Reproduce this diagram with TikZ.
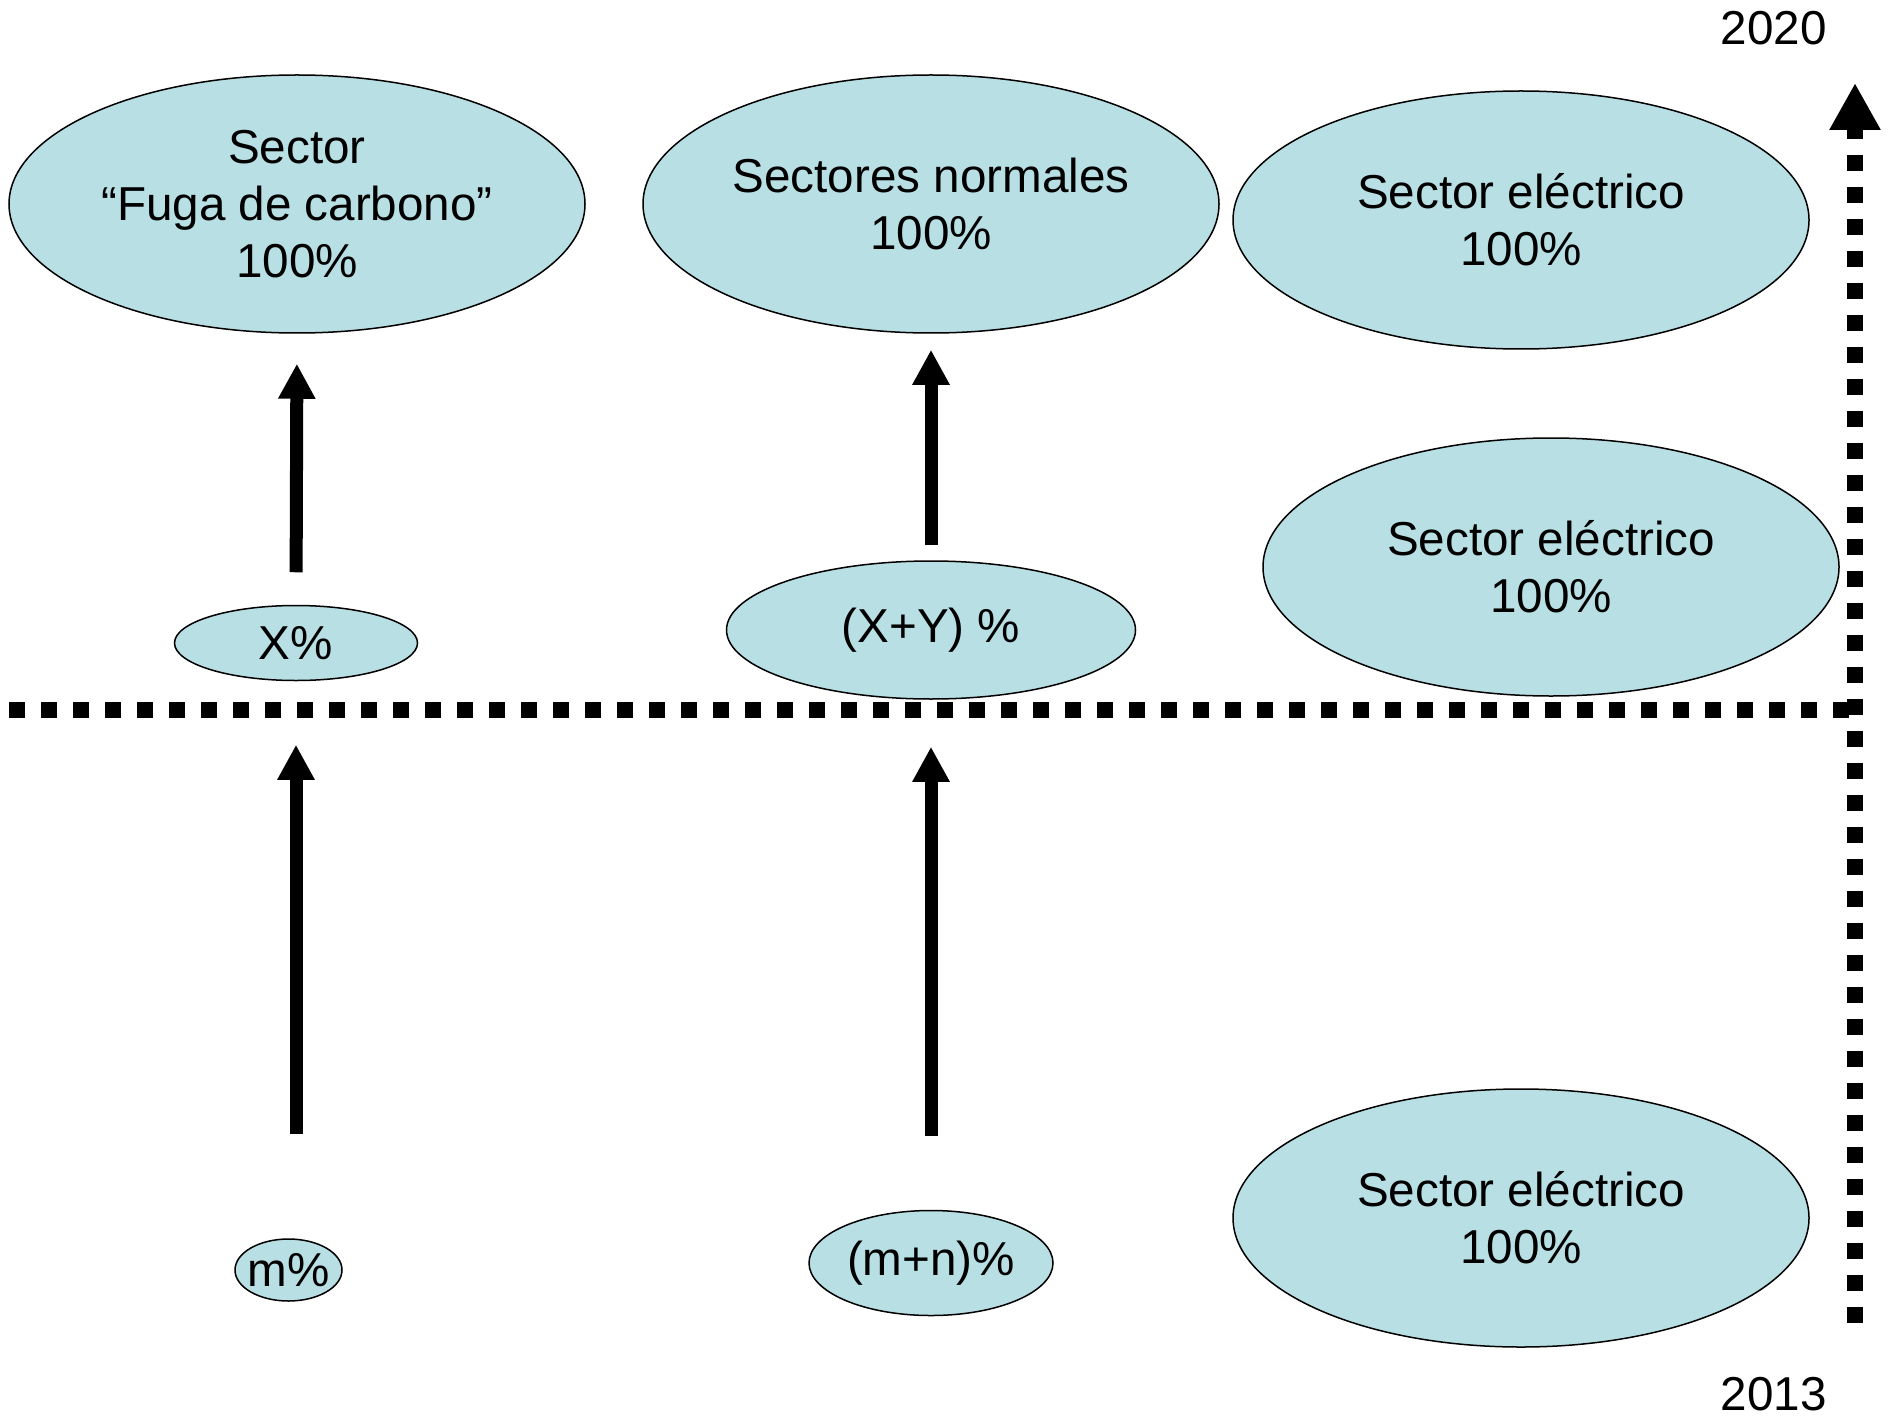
\documentclass[tikz,border=0pt]{standalone}
\usepackage{fontspec}
\setmainfont{Liberation Sans}
\usetikzlibrary{arrows.meta,shapes.geometric}
\definecolor{celeste}{RGB}{184,223,227}

\begin{document}
\begin{tikzpicture}[x=0.5pt,y=-0.5pt]
    % Estilos
    \tikzstyle{elipse}=[ellipse,draw=black,line width=0.75pt,fill=celeste,inner sep=0pt,align=center,font=\fontsize{23.8}{28.6}\selectfont]
    \tikzstyle{grande}=[elipse,minimum width=288pt,minimum height=129pt]
    \tikzstyle{flecha}=[line width=6.5pt,-{Triangle[width=17.5pt,length=17.5pt]}]
    \tikzstyle{puntos}=[line width=8pt,dash pattern=on 8pt off 8pt]
    \tikzstyle{anio}=[anchor=base east,inner sep=0pt,font=\fontsize{23.8}{28.6}\selectfont]
    % Marco
    \useasboundingbox (0,0) rectangle (1893,1417);
    % Sectores 2020
    \node[grande] (fuga) at (297,204) {Sector\\“Fuga de carbono”\\100\%};
    \node[grande] (normales) at (931,204) {Sectores normales\\100\%};
    \node[grande] (electricoA) at (1521,220) {Sector eléctrico\\100\%};
    \node[grande] (electricoB) at (1551,567) {Sector eléctrico\\100\%};
    \node[grande] (electricoC) at (1521,1218) {Sector eléctrico\\100\%};
    % Porcentajes
    \node[elipse,minimum width=121.5pt,minimum height=37.5pt] (xpct) at (296,643) {X\%};
    \node[elipse,minimum width=204.5pt,minimum height=69pt] (xypct) at (931,630) {(X+Y) \%};
    \node[elipse,inner sep=-4pt,minimum width=53.5pt,minimum height=31pt] (mpct) at (288.5,1270) {m\%};
    \node[elipse,minimum width=122pt,minimum height=52.5pt] (mnpct) at (931,1263) {(m+n)\%};
    % Flechas
    \draw[flecha,shorten <=16.25pt,shorten >=15pt] (xpct.north) -- (fuga.south);
    \draw[flecha,shorten <=52pt,shorten >=31.75pt] (xpct.south |- mpct.north) -- (xpct.south);
    \draw[flecha,shorten <=7.5pt,shorten >=8pt] (xypct.north) -- (normales.south);
    \draw[flecha,shorten <=36.75pt,shorten >=23.5pt] (mnpct.north) -- (xypct.south);
    % Ejes punteados
    \coordinate (ejeIzq) at (9,710);
    \coordinate (ejeDer) at (1849,710);
    \coordinate (ejeAbajo) at (1855,1323);
    \coordinate (ejeArriba) at (1855,83);
    \draw[puntos] (ejeIzq) -- (ejeDer);
    \draw[puntos,-{Triangle[width=24pt,length=23.5pt]}] (ejeAbajo) -- (ejeArriba);
    % Años
    \node[anio] (fin) at (1827,45) {2020};
    \node[anio] (inicio) at (1827,1410) {2013};
\end{tikzpicture}
\end{document}
